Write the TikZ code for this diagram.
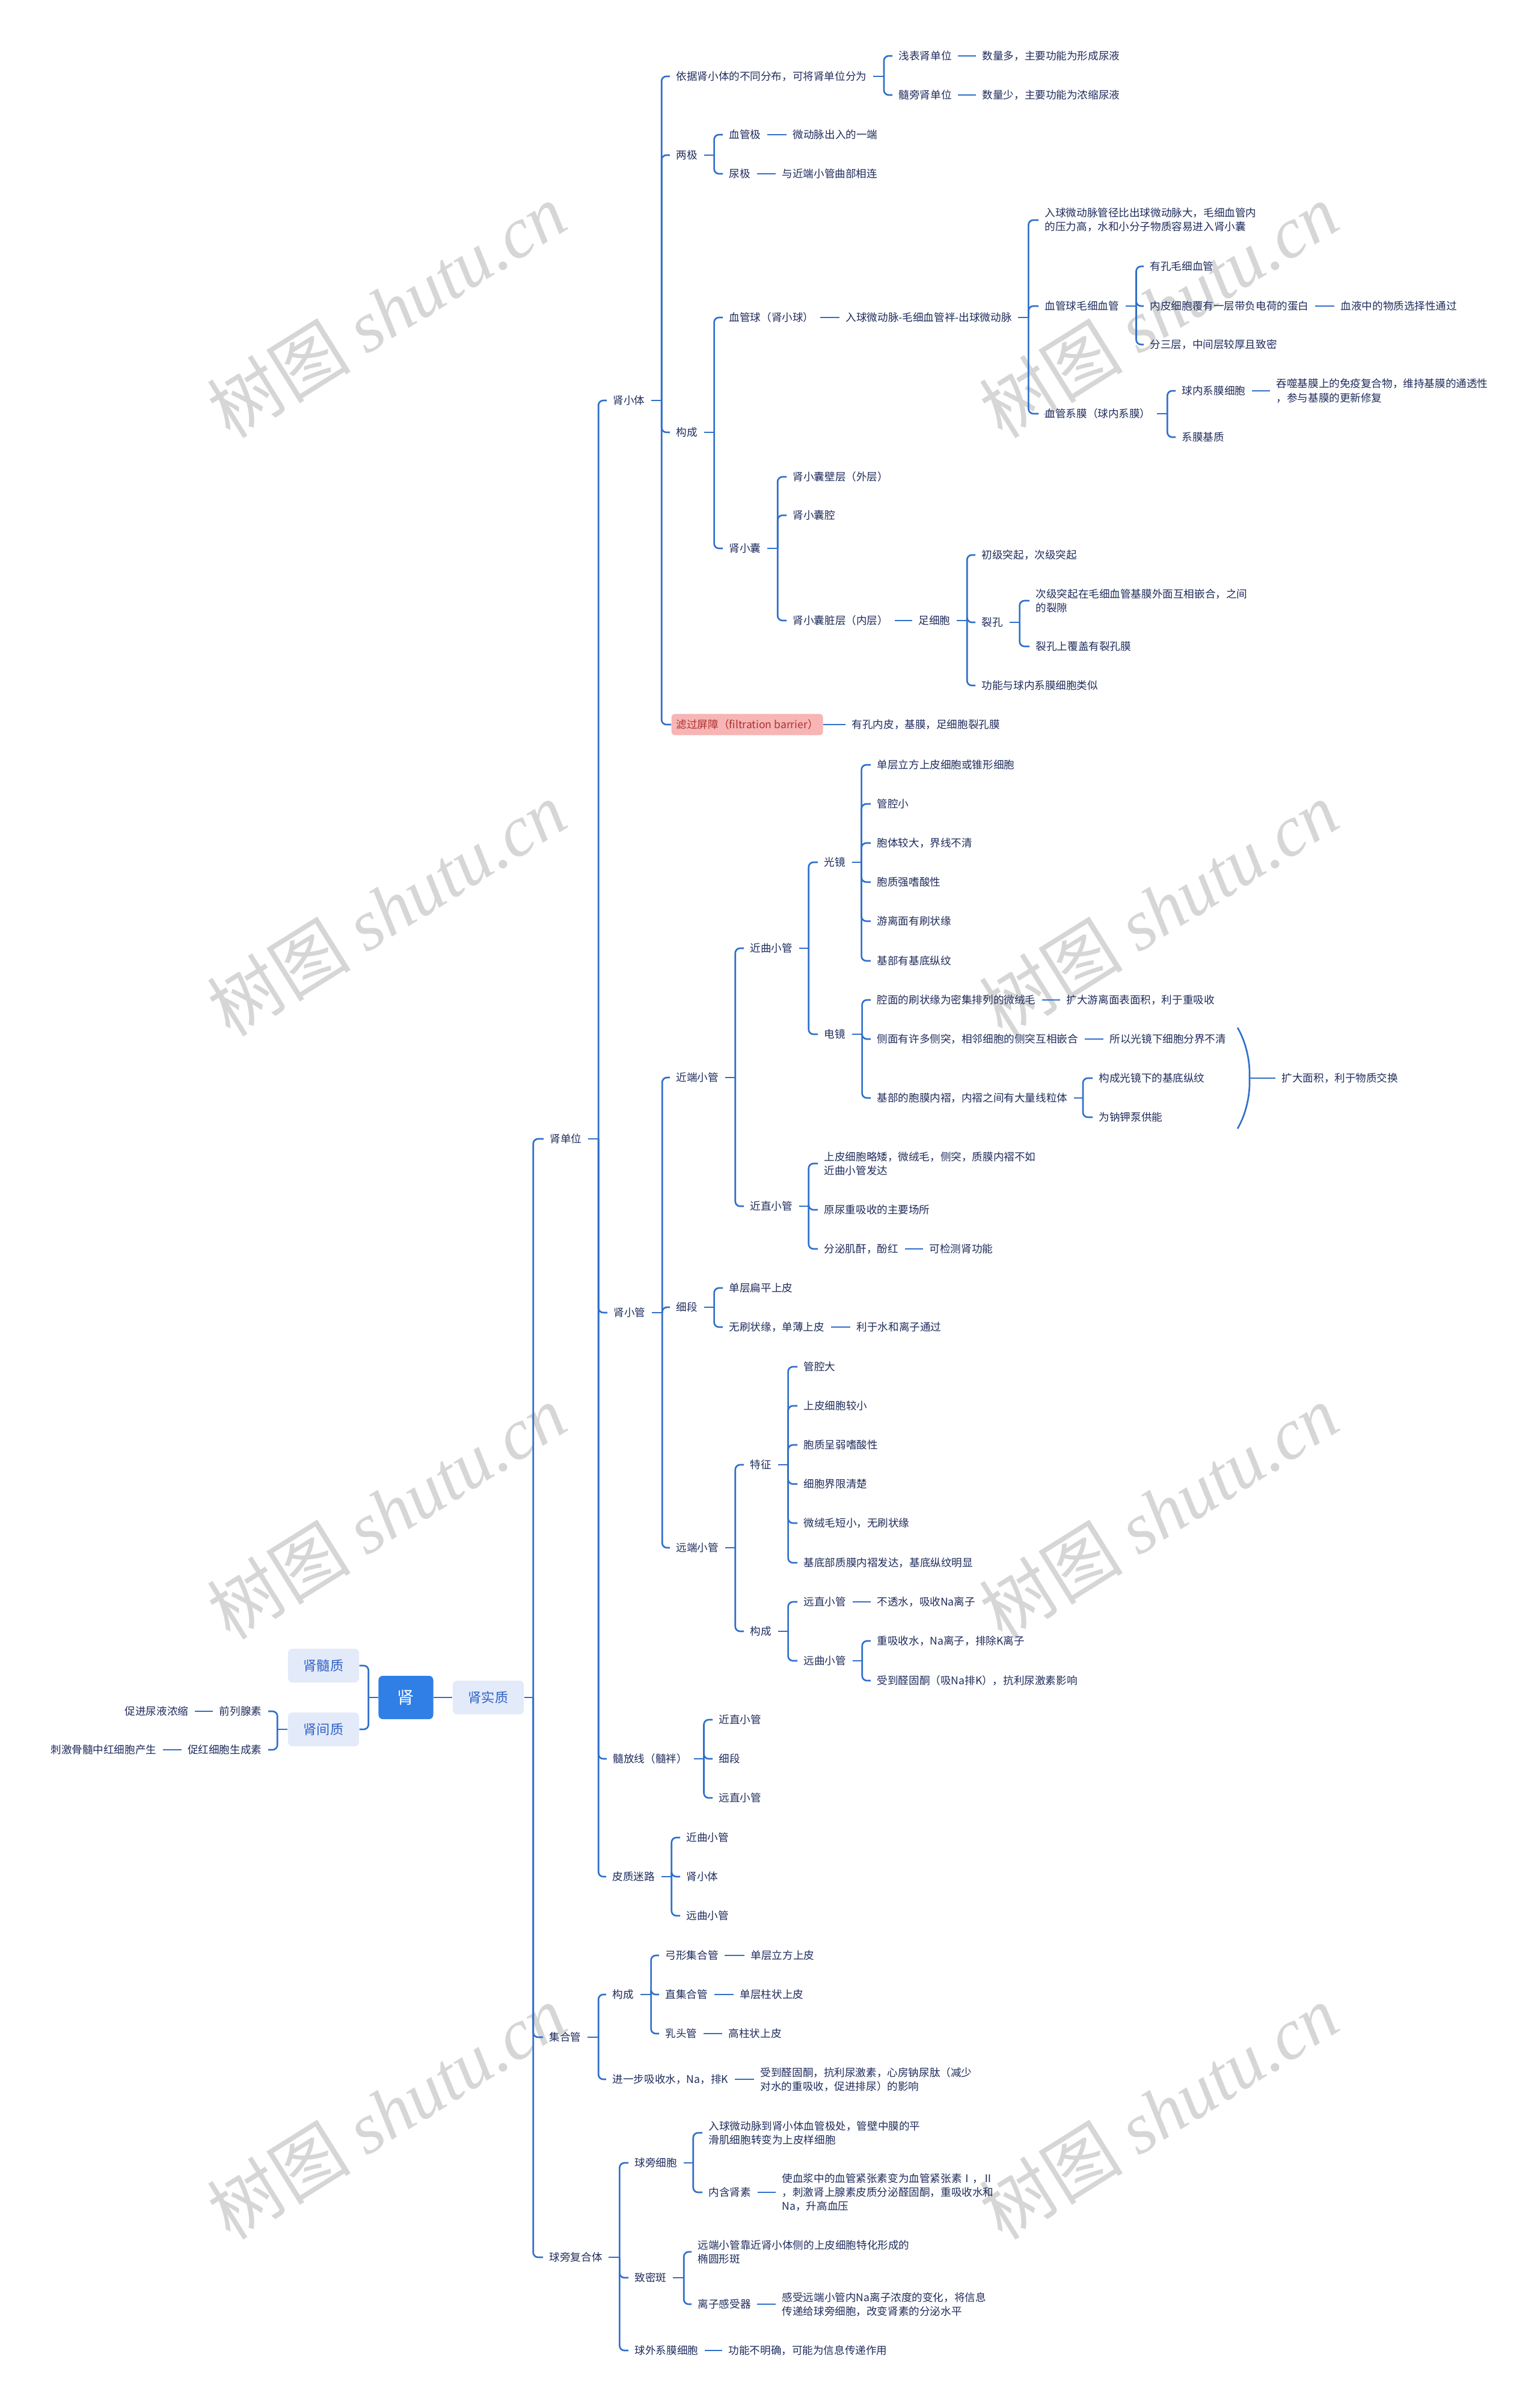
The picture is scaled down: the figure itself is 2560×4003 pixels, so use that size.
\documentclass[tikz,border=0pt]{standalone}
\usepackage{fontspec}
\setmainfont{Noto Sans CJK SC}
\newfontfamily\wmlatin{Liberation Serif}

\definecolor{ink}{HTML}{1F2C5C}
\definecolor{branch}{HTML}{2F6FCB}
\definecolor{rootblue}{HTML}{2F7FE6}
\definecolor{palebox}{HTML}{E3EAFA}
\definecolor{boxink}{HTML}{2F62C4}
\definecolor{alertfill}{HTML}{F7B5B5}
\definecolor{alertink}{HTML}{B03030}
\definecolor{wmgray}{HTML}{D6D6D6}

\begin{document}
\begin{tikzpicture}[
    x=0.01cm, y=-0.01cm,
    txt/.style={
        anchor=west,
        inner xsep=0.1cm,
        inner ysep=0.03cm,
        align=left,
        text=ink,
        font=\fontsize{5}{6.55}\selectfont
    },
    ltxt/.style={
        txt,
        anchor=east
    },
    rootbox/.style={
        fill=rootblue,
        text=white,
        rounded corners=0.07cm,
        minimum width=0.91cm,
        minimum height=0.72cm,
        font=\fontsize{8}{8}\selectfont
    },
    subbox/.style={
        fill=palebox,
        text=boxink,
        rounded corners=0.07cm,
        minimum width=1.18cm,
        minimum height=0.56cm,
        font=\fontsize{6.3}{6.3}\selectfont
    },
    alert/.style={
        txt,
        fill=alertfill,
        text=alertink,
        rounded corners=0.05cm,
        inner xsep=0.08cm,
        minimum height=0.35cm
    },
    link/.style={
        draw=branch,
        line width=0.75pt,
        rounded corners=0.08cm
    },
    wmark/.style={
        text=wmgray,
        rotate=32,
        font=\fontsize{34}{34}\selectfont
    }]

\fill[white] (0,0) rectangle (2560,4003);
\useasboundingbox (0,0) rectangle (2560,4003);

% Watermarks
\foreach \wx in {643,1927}
  \foreach \wy in {516,1511,2514,3512}
    \node[wmark] (wm-\wx-\wy) at (\wx,\wy) {树图 {\wmlatin\itshape shutu.cn}};


% Root
\node[rootbox] (shen) at (675,2823) {肾};
\node[subbox] (shizhi) at (812,2823) {肾实质};
\node[subbox] (suizhi) at (538,2770) {肾髓质};
\node[subbox] (jianzhi) at (538,2876) {肾间质};

\node[ltxt] (qlxs) at (446,2846) {前列腺素};
\node[ltxt] (chs) at (446,2910) {促红细胞生成素};
\node[ltxt] (cjny) at (324,2846) {促进尿液浓缩};
\node[ltxt] (cjgs) at (271,2910) {刺激骨髓中红细胞产生};


% Level one
\node[txt] (danwei) at (904,1894) {肾单位};
\node[txt] (jhg) at (903,3388) {集合管};
\node[txt] (qpfh) at (903,3754) {球旁复合体};

\node[txt] (xiaoti) at (1009,666) {肾小体};
\node[txt] (xiaoguan) at (1010,2183) {肾小管};
\node[txt] (sfx) at (1009,2925) {髓放线（髓袢）};
\node[txt] (pzml) at (1008,3121) {皮质迷路};


% Renal corpuscle
\node[txt] (fenbu) at (1114,127) {依据肾小体的不同分布，可将肾单位分为};
\node[txt] (qb) at (1484,93) {浅表肾单位};
\node[txt] (qbf) at (1623,93) {数量多，主要功能为形成尿液};
\node[txt] (sp) at (1484,158) {髓旁肾单位};
\node[txt] (spf) at (1623,158) {数量少，主要功能为浓缩尿液};

\node[txt] (liangji) at (1114,258) {两极};
\node[txt] (xgj) at (1202,224) {血管极};
\node[txt] (xgjf) at (1308,224) {微动脉出入的一端};
\node[txt] (nj) at (1202,289) {尿极};
\node[txt] (njf) at (1290,289) {与近端小管曲部相连};

\node[txt] (gc1) at (1114,719) {构成};
\node[txt] (xgq) at (1202,528) {血管球（肾小球）};
\node[txt] (xgqf) at (1396,528) {入球微动脉-毛细血管袢-出球微动脉};
\node[txt] (rqwdm) at (1727,366)
{入球微动脉管径比出球微动脉大，毛细血管内\\
的压力高，水和小分子物质容易进入肾小囊};
\node[txt] (mxxg) at (1727,509) {血管球毛细血管};
\node[txt] (ykmx) at (1902,443) {有孔毛细血管};
\node[txt] (nbxb) at (1902,509) {内皮细胞覆有一层带负电荷的蛋白};
\node[txt] (xyzd) at (2219,509) {血液中的物质选择性通过};
\node[txt] (fsc) at (1902,573) {分三层，中间层较厚且致密};
\node[txt] (xgxm) at (1727,688) {血管系膜（球内系膜）};
\node[txt] (qnxm) at (1955,650) {球内系膜细胞};
\node[txt] (tsjm) at (2112,650)
{吞噬基膜上的免疫复合物，维持基膜的通透性\\
，参与基膜的更新修复};
\node[txt] (xmjz) at (1955,727) {系膜基质};

\node[txt] (xn) at (1202,912) {肾小囊};
\node[txt] (bc) at (1308,793) {肾小囊壁层（外层）};
\node[txt] (nq) at (1308,857) {肾小囊腔};
\node[txt] (zc) at (1308,1032) {肾小囊脏层（内层）};
\node[txt] (zxb) at (1517,1032) {足细胞};
\node[txt] (tq) at (1622,923) {初级突起，次级突起};
\node[txt] (lk) at (1622,1035) {裂孔};
\node[txt] (qh) at (1712,999)
{次级突起在毛细血管基膜外面互相嵌合，之间\\
的裂隙};
\node[txt] (lkm) at (1712,1075) {裂孔上覆盖有裂孔膜};
\node[txt] (gnls) at (1622,1140) {功能与球内系膜细胞类似};

\node[alert] (lgpz) at (1116,1205) {滤过屏障（filtration barrier）};
\node[txt] (ykn) at (1406,1205) {有孔内皮，基膜，足细胞裂孔膜};


% Renal tubule
\node[txt] (jdxg) at (1114,1792) {近端小管};
\node[txt] (jqxg) at (1237,1577) {近曲小管};
\node[txt] (gj) at (1360,1434) {光镜};
\node[txt] (gj1) at (1448,1272) {单层立方上皮细胞或锥形细胞};
\node[txt] (gj2) at (1448,1337) {管腔小};
\node[txt] (gj3) at (1448,1402) {胞体较大，界线不清};
\node[txt] (gj4) at (1448,1467) {胞质强嗜酸性};
\node[txt] (gj5) at (1448,1532) {游离面有刷状缘};
\node[txt] (gj6) at (1448,1598) {基部有基底纵纹};

\node[txt] (dj) at (1360,1720) {电镜};
\node[txt] (dj1) at (1448,1663) {腔面的刷状缘为密集排列的微绒毛};
\node[txt] (dj1f) at (1763,1663) {扩大游离面表面积，利于重吸收};
\node[txt] (dj2) at (1448,1728) {侧面有许多侧突，相邻细胞的侧突互相嵌合};
\node[txt] (dj2f) at (1835,1728) {所以光镜下细胞分界不清};
\node[txt] (dj3) at (1448,1826) {基部的胞膜内褶，内褶之间有大量线粒体};
\node[txt] (dj3a) at (1817,1793) {构成光镜下的基底纵纹};
\node[txt] (dj3b) at (1817,1858) {为钠钾泵供能};
\node[txt] (kdmj) at (2121,1793) {扩大面积，利于物质交换};

\node[txt] (jzxg) at (1237,2006) {近直小管};
\node[txt] (jz1) at (1360,1935)
{上皮细胞略矮，微绒毛，侧突，质膜内褶不如\\
近曲小管发达};
\node[txt] (jz2) at (1360,2012) {原尿重吸收的主要场所};
\node[txt] (jz3) at (1360,2077) {分泌肌酐，酚红};
\node[txt] (jz3f) at (1535,2077) {可检测肾功能};

\node[txt] (xd) at (1114,2174) {细段};
\node[txt] (xd1) at (1202,2142) {单层扁平上皮};
\node[txt] (xd2) at (1202,2207) {无刷状缘，单薄上皮};
\node[txt] (xd2f) at (1414,2207) {利于水和离子通过};

\node[txt] (ydxg) at (1114,2574) {远端小管};
\node[txt] (tz) at (1237,2436) {特征};
\node[txt] (tz1) at (1326,2273) {管腔大};
\node[txt] (tz2) at (1326,2338) {上皮细胞较小};
\node[txt] (tz3) at (1326,2403) {胞质呈弱嗜酸性};
\node[txt] (tz4) at (1326,2468) {细胞界限清楚};
\node[txt] (tz5) at (1326,2533) {微绒毛短小，无刷状缘};
\node[txt] (tz6) at (1326,2599) {基底部质膜内褶发达，基底纵纹明显};
\node[txt] (gc2) at (1237,2713) {构成};
\node[txt] (yzxg) at (1326,2664) {远直小管};
\node[txt] (yzxgf) at (1448,2664) {不透水，吸收Na离子};
\node[txt] (yqxg) at (1326,2762) {远曲小管};
\node[txt] (yq1) at (1448,2729) {重吸收水，Na离子，排除K离子};
\node[txt] (yq2) at (1448,2795) {受到醛固酮（吸Na排K），抗利尿激素影响};


% Medullary ray and cortical labyrinth
\node[txt] (sf1) at (1185,2860) {近直小管};
\node[txt] (sf2) at (1185,2925) {细段};
\node[txt] (sf3) at (1185,2990) {远直小管};

\node[txt] (pz1) at (1131,3056) {近曲小管};
\node[txt] (pz2) at (1131,3121) {肾小体};
\node[txt] (pz3) at (1131,3186) {远曲小管};


% Collecting duct
\node[txt] (gc3) at (1008,3317) {构成};
\node[txt] (gxj) at (1096,3252) {弓形集合管};
\node[txt] (gxjf) at (1238,3252) {单层立方上皮};
\node[txt] (zjh) at (1096,3317) {直集合管};
\node[txt] (zjhf) at (1220,3317) {单层柱状上皮};
\node[txt] (rtg) at (1096,3382) {乳头管};
\node[txt] (rtgf) at (1201,3382) {高柱状上皮};
\node[txt] (jyb) at (1008,3458) {进一步吸收水，Na，排K};
\node[txt] (jybf) at (1254,3458)
{受到醛固酮，抗利尿激素，心房钠尿肽（减少\\
对水的重吸收，促进排尿）的影响};


% Juxtaglomerular complex
\node[txt] (qpxb) at (1045,3597) {球旁细胞};
\node[txt] (qp1) at (1168,3547)
{入球微动脉到肾小体血管极处，管壁中膜的平\\
滑肌细胞转变为上皮样细胞};
\node[txt] (qp2) at (1168,3646) {内含肾素};
\node[txt] (qp2f) at (1290,3646)
{使血浆中的血管紧张素变为血管紧张素Ⅰ，Ⅱ\\
，刺激肾上腺素皮质分泌醛固酮，重吸收水和\\
Na，升高血压};
\node[txt] (zmb) at (1045,3788) {致密斑};
\node[txt] (zm1) at (1150,3745)
{远端小管靠近肾小体侧的上皮细胞特化形成的\\
椭圆形斑};
\node[txt] (zm2) at (1150,3832) {离子感受器};
\node[txt] (zm2f) at (1290,3832)
{感受远端小管内Na离子浓度的变化，将信息\\
传递给球旁细胞，改变肾素的分泌水平};
\node[txt] (qwxm) at (1045,3909) {球外系膜细胞};
\node[txt] (qwxmf) at (1201,3909) {功能不明确，可能为信息传递作用};


% Brackets
\draw[link] (shen.east) -- (shizhi.west);
\draw[link] (shen.west) -- ++(-16,0) coordinate (shenB);
\foreach \kid in {suizhi,jianzhi}
  \draw[link] (shenB) |- (\kid.east);
\draw[link] (jianzhi.west) -- ++(-17,0) coordinate (jianB);
\foreach \kid in {qlxs,chs}
  \draw[link] (jianB) |- (\kid.east);

\draw[link] (shizhi.east) -- ++(15,0) coordinate (trunk);
\foreach \kid in {danwei,jhg,qpfh}
  \draw[link] (trunk) |- (\kid.west);

\draw[link] (danwei.east) -- ++(17,0) coordinate (danweiB);
\foreach \kid in {xiaoti,xiaoguan,sfx,pzml}
  \draw[link] (danweiB) |- (\kid.west);

\draw[link] (xiaoti.east) -- ++(17,0) coordinate (xiaotiB);
\foreach \kid in {fenbu,liangji,gc1,lgpz}
  \draw[link] (xiaotiB) |- (\kid.west);

\draw[link] (fenbu.east) -- ++(18,0) coordinate (fenbuB);
\foreach \kid in {qb,sp}
  \draw[link] (fenbuB) |- (\kid.west);

\draw[link] (liangji.east) -- ++(17,0) coordinate (liangjiB);
\foreach \kid in {xgj,nj}
  \draw[link] (liangjiB) |- (\kid.west);

\draw[link] (gc1.east) -- ++(17,0) coordinate (gc1B);
\foreach \kid in {xgq,xn}
  \draw[link] (gc1B) |- (\kid.west);

\draw[link] (xgqf.east) -- ++(17,0) coordinate (xgqB);
\foreach \kid in {rqwdm,mxxg,xgxm}
  \draw[link] (xgqB) |- (\kid.west);

\draw[link] (mxxg.east) -- ++(18,0) coordinate (mxxgB);
\foreach \kid in {ykmx,nbxb,fsc}
  \draw[link] (mxxgB) |- (\kid.west);

\draw[link] (xgxm.east) -- ++(17,0) coordinate (xgxmB);
\foreach \kid in {qnxm,xmjz}
  \draw[link] (xgxmB) |- (\kid.west);

\draw[link] (xn.east) -- ++(17,0) coordinate (xnB);
\foreach \kid in {bc,nq,zc}
  \draw[link] (xnB) |- (\kid.west);

\draw[link] (zxb.east) -- ++(17,0) coordinate (zxbB);
\foreach \kid in {tq,lk,gnls}
  \draw[link] (zxbB) |- (\kid.west);

\draw[link] (lk.east) -- ++(17,0) coordinate (lkB);
\foreach \kid in {qh,lkm}
  \draw[link] (lkB) |- (\kid.west);

\draw[link] (xiaoguan.east) -- ++(17,0) coordinate (xiaoguanB);
\foreach \kid in {jdxg,xd,ydxg}
  \draw[link] (xiaoguanB) |- (\kid.west);

\draw[link] (jdxg.east) -- ++(17,0) coordinate (jdxgB);
\foreach \kid in {jqxg,jzxg}
  \draw[link] (jdxgB) |- (\kid.west);

\draw[link] (jqxg.east) -- ++(16,0) coordinate (jqxgB);
\foreach \kid in {gj,dj}
  \draw[link] (jqxgB) |- (\kid.west);

\draw[link] (gj.east) -- ++(16,0) coordinate (gjB);
\foreach \kid in {gj1,gj2,gj3,gj4,gj5,gj6}
  \draw[link] (gjB) |- (\kid.west);

\draw[link] (dj.east) -- ++(17,0) coordinate (djB);
\foreach \kid in {dj1,dj2,dj3}
  \draw[link] (djB) |- (\kid.west);

\draw[link] (dj3.east) -- ++(15,0) coordinate (dj3B);
\foreach \kid in {dj3a,dj3b}
  \draw[link] (dj3B) |- (\kid.west);

\draw[link] (jzxg.east) -- ++(16,0) coordinate (jzxgB);
\foreach \kid in {jz1,jz2,jz3}
  \draw[link] (jzxgB) |- (\kid.west);

\draw[link] (xd.east) -- ++(17,0) coordinate (xdB);
\foreach \kid in {xd1,xd2}
  \draw[link] (xdB) |- (\kid.west);

\draw[link] (ydxg.east) -- ++(17,0) coordinate (ydxgB);
\foreach \kid in {tz,gc2}
  \draw[link] (ydxgB) |- (\kid.west);

\draw[link] (tz.east) -- ++(17,0) coordinate (tzB);
\foreach \kid in {tz1,tz2,tz3,tz4,tz5,tz6}
  \draw[link] (tzB) |- (\kid.west);

\draw[link] (gc2.east) -- ++(17,0) coordinate (gc2B);
\foreach \kid in {yzxg,yqxg}
  \draw[link] (gc2B) |- (\kid.west);

\draw[link] (yqxg.east) -- ++(16,0) coordinate (yqxgB);
\foreach \kid in {yq1,yq2}
  \draw[link] (yqxgB) |- (\kid.west);

\draw[link] (sfx.east) -- ++(17,0) coordinate (sfxB);
\foreach \kid in {sf1,sf2,sf3}
  \draw[link] (sfxB) |- (\kid.west);

\draw[link] (pzml.east) -- ++(17,0) coordinate (pzmlB);
\foreach \kid in {pz1,pz2,pz3}
  \draw[link] (pzmlB) |- (\kid.west);

\draw[link] (jhg.east) -- ++(18,0) coordinate (jhgB);
\foreach \kid in {gc3,jyb}
  \draw[link] (jhgB) |- (\kid.west);

\draw[link] (gc3.east) -- ++(18,0) coordinate (gc3B);
\foreach \kid in {gxj,zjh,rtg}
  \draw[link] (gc3B) |- (\kid.west);

\draw[link] (qpfh.east) -- ++(18,0) coordinate (qpfhB);
\foreach \kid in {qpxb,zmb,qwxm}
  \draw[link] (qpfhB) |- (\kid.west);

\draw[link] (qpxb.east) -- ++(16,0) coordinate (qpxbB);
\foreach \kid in {qp1,qp2}
  \draw[link] (qpxbB) |- (\kid.west);

\draw[link] (zmb.east) -- ++(18,0) coordinate (zmbB);
\foreach \kid in {zm1,zm2}
  \draw[link] (zmbB) |- (\kid.west);


% Single links
\draw[link] (qlxs.west) -- (cjny.east);
\draw[link] (chs.west) -- (cjgs.east);
\draw[link] (qb.east) -- (qbf.west);
\draw[link] (sp.east) -- (spf.west);
\draw[link] (xgj.east) -- (xgjf.west);
\draw[link] (nj.east) -- (njf.west);
\draw[link] (xgq.east) -- (xgqf.west);
\draw[link] (nbxb.east) -- (xyzd.west);
\draw[link] (qnxm.east) -- (tsjm.west);
\draw[link] (zc.east) -- (zxb.west);
\draw[link] (lgpz.east) -- (ykn.west);
\draw[link] (dj1.east) -- (dj1f.west);
\draw[link] (dj2.east) -- (dj2f.west);
\draw[link] (jz3.east) -- (jz3f.west);
\draw[link] (xd2.east) -- (xd2f.west);
\draw[link] (yzxg.east) -- (yzxgf.west);
\draw[link] (gxj.east) -- (gxjf.west);
\draw[link] (zjh.east) -- (zjhf.west);
\draw[link] (rtg.east) -- (rtgf.west);
\draw[link] (jyb.east) -- (jybf.west);
\draw[link] (qp2.east) -- (qp2f.west);
\draw[link] (zm2.east) -- (zm2f.west);
\draw[link] (qwxm.east) -- (qwxmf.west);


% Summary brace
\coordinate (braceT) at (2058,1709);
\coordinate (braceM) at (2078,1793);
\coordinate (braceB) at (2058,1877);
\draw[link] (braceT) .. controls (2073,1735) and (2078,1765) .. (braceM)
    .. controls (2078,1821) and (2073,1851) .. (braceB);
\draw[link] (braceM) -- (kdmj.west);

\end{tikzpicture}
\end{document}
